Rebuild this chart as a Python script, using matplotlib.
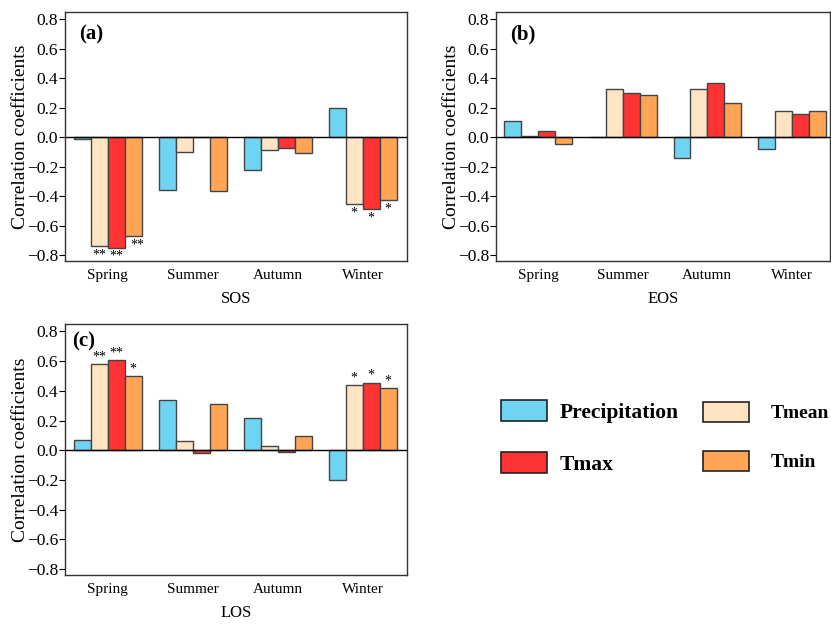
import matplotlib
matplotlib.use("Agg")
import matplotlib.pyplot as plt
import numpy as np
from matplotlib.patches import Patch

plt.rcParams['font.family'] = ['Liberation Serif', 'DejaVu Serif']

seasons = ["Spring", "Summer", "Autumn", "Winter"]
series = ["Precipitation", "Tmean", "Tmax", "Tmin"]
colors = ["#6fd4f2", "#ffe4c4", "#ff3333", "#ffa555"]

# SOS
sos_precip = [-0.01, -0.36, -0.22, 0.20]
sos_tmean = [-0.74, -0.10, -0.085, -0.455]
sos_tmax = [-0.75, 0.003, -0.07, -0.49]
sos_tmin = [-0.67, -0.365, -0.11, -0.425]
sos_sig = {(1, 0): "**", (2, 0): "**", (3, 0): "**",
           (1, 3): "*", (2, 3): "*", (3, 3): "*"}

# EOS
eos_precip = [0.11, 0.0, -0.14, -0.08]
eos_tmean = [0.01, 0.325, 0.325, 0.175]
eos_tmax = [0.04, 0.30, 0.37, 0.155]
eos_tmin = [-0.045, 0.29, 0.235, 0.175]
eos_sig = {}

# LOS
los_precip = [0.07, 0.335, 0.215, -0.20]
los_tmean = [0.58, 0.06, 0.03, 0.44]
los_tmax = [0.605, -0.02, -0.01, 0.455]
los_tmin = [0.50, 0.31, 0.095, 0.42]
los_sig = {(1, 0): "**", (2, 0): "**", (3, 0): "*",
           (1, 3): "*", (2, 3): "*", (3, 3): "*"}

W, H = 831, 626
fig = plt.figure(figsize=(W / 100, H / 100), dpi=100)

def px_axes(l, t, r, b):
    return fig.add_axes([l / W, 1 - b / H, (r - l) / W, (b - t) / H])

panels = [
    (px_axes(65, 12, 407, 261), [sos_precip, sos_tmean, sos_tmax, sos_tmin], sos_sig, "SOS", "(a)", (-0.5, 3.52), (14, 12)),
    (px_axes(496, 12, 830, 261), [eos_precip, eos_tmean, eos_tmax, eos_tmin], eos_sig, "EOS", "(b)", (-0.5, 3.45), (14, 12)),
    (px_axes(65, 324, 407, 575), [los_precip, los_tmean, los_tmax, los_tmin], los_sig, "LOS", "(c)", (-0.5, 3.52), (7, 7)),
]

x = np.arange(len(seasons))
bw = 0.2
for ax, data, sig, xl, lab, xlim, labpos in panels:
    for i, (vals, c) in enumerate(zip(data, colors)):
        ax.bar(x + (i - 1.5) * bw, vals, width=bw, color=c,
               edgecolor="#444444", linewidth=1.0, zorder=2)
    for (i, j), s in sig.items():
        v = data[i][j]
        xpos = x[j] + (i - 1.5) * bw
        if i == 3 and xl == "SOS" and j == 0:
            xpos += 0.05
        if v < 0:
            ax.text(xpos, v - 0.015, s, ha="center", va="top", fontsize=10)
        else:
            ax.text(xpos, v + 0.005, s, ha="center", va="bottom", fontsize=10)
    ax.axhline(0, color="black", linewidth=1.0, zorder=3)
    ax.set_ylim(-0.84, 0.85)
    ax.set_xlim(*xlim)
    ax.set_yticks([-0.8, -0.6, -0.4, -0.2, 0.0, 0.2, 0.4, 0.6, 0.8])
    ax.set_yticklabels(["\u22120.8", "\u22120.6", "\u22120.4", "\u22120.2", "0.0", "0.2", "0.4", "0.6", "0.8"])
    ax.set_xticks(x)
    ax.set_xticklabels(seasons)
    ax.tick_params(axis="x", length=0, labelsize=11, pad=6)
    ax.tick_params(axis="y", length=4, labelsize=12.5, direction="out", pad=1.0)
    ax.set_ylabel("Correlation coefficients", fontsize=14)
    bbox_w = ax.get_position().width * W
    ax.yaxis.set_label_coords(-36 / bbox_w, 0.5)
    ax.set_xlabel(xl, fontsize=12, labelpad=6)
    for sp in ax.spines.values():
        sp.set_color("#333333")
        sp.set_linewidth(1.0)
    bbox_h = ax.get_position().height * H
    ax.text(labpos[0] / bbox_w, 1 - labpos[1] / bbox_h, lab, transform=ax.transAxes,
            fontsize=15, fontweight="bold", ha="left", va="top")

def patch(c):
    return Patch(facecolor=c, edgecolor="#222222", linewidth=1.2)

leg1 = fig.legend([patch(colors[0]), patch(colors[2])], ["Precipitation", "Tmax"],
                  loc="upper left", bbox_to_anchor=(482 / W, 1 - 381 / H), frameon=False,
                  prop={"family": "Liberation Serif", "weight": "bold", "size": 15.5},
                  handlelength=2.14, handleheight=1.1,
                  handletextpad=0.55, labelspacing=1.35)
leg2 = fig.legend([patch(colors[1]), patch(colors[3])], ["Tmean", "Tmin"],
                  loc="upper left", bbox_to_anchor=(685 / W, 1 - 384 / H), frameon=False,
                  prop={"family": "Liberation Serif", "weight": "bold", "size": 14},
                  handlelength=2.37, handleheight=1.25,
                  handletextpad=1.13, labelspacing=1.45)

fig.savefig("out.png", dpi=100)
